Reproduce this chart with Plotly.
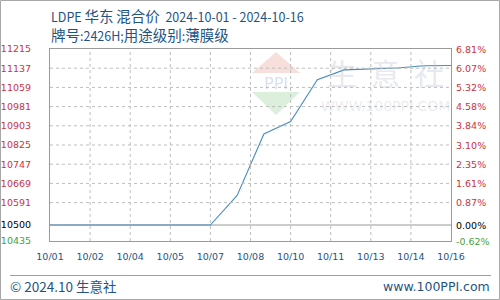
import plotly.graph_objects as go
import pandas as pd

# ---------------- data ----------------
dates = ["2024-10-01", "2024-10-02", "2024-10-03", "2024-10-04", "2024-10-05",
         "2024-10-06", "2024-10-07", "2024-10-08", "2024-10-09", "2024-10-10",
         "2024-10-11", "2024-10-12", "2024-10-13", "2024-10-14", "2024-10-15",
         "2024-10-16"]
prices = [10500, 10500, 10500, 10500, 10500, 10500, 10500, 10620, 10870, 10920,
          11090, 11130, 11134, 11138, 11147, 11148]
y_ticks = [11215, 11137, 11059, 10981, 10903, 10825, 10747, 10669, 10591, 10500, 10435]
base_price = 10500
x_tick_labels = ["10/01", "10/02", "10/04", "10/05", "10/07", "10/08",
                 "10/10", "10/11", "10/13", "10/14", "10/16"]
title_parts_1 = [("LDPE", False), (" ", False), ("华东", True), (" ", False),
                 ("混合价", True), ("  2024-10-01 - 2024-10-16", False)]
title_parts_2 = [("牌号", True), (":2426H;", False), ("用途级别", True),
                 (":", False), ("薄膜级", True)]
footer_left = "© 2024.10 生意社"
footer_right = "www.100PPI.com"

# ---------------- layout geometry ----------------
W, H = 500, 300
L, R, T, B = 50, 451, 49, 241
PW, PH = R - L, B - T


def px(x):
    return (x - L) / PW


def py(y):
    return (B - y) / PH


RED, GREEN, BLACK = "#cc3340", "#3f9f3f", "#000000"
BLUE_TXT = "#1f5482"
NUMFONT = "DejaVu Sans"
CJK = "Noto Sans CJK SC"


def tick_color(v):
    if v == base_price:
        return BLACK
    if v < base_price:
        return GREEN
    return RED


def mixed(parts, cjk_size):
    out = []
    for txt, is_cjk in parts:
        if is_cjk:
            out.append(f'<span style="font-size:{cjk_size}px">{txt}</span>')
        else:
            out.append(txt)
    return "".join(out)


left_text = [f'<span style="color:{tick_color(v)}">{v}</span>' for v in y_ticks]

start = pd.Timestamp(dates[0])
end = pd.Timestamp(dates[-1])
step = (end - start) / (len(x_tick_labels) - 1)
x_tick_vals = [start + i * step for i in range(len(x_tick_labels))]

fig = go.Figure()
fig.add_trace(go.Scatter(x=dates, y=prices, mode="lines",
                         line=dict(color="#4a8cbc", width=1.1),
                         hoverinfo="skip", showlegend=False))

yrange = [min(y_ticks), max(y_ticks)]
GRID = "#bdbdbd"

fig.update_layout(
    width=W, height=H,
    margin=dict(l=L, r=W - R, t=T, b=H - B, pad=0, autoexpand=False),
    paper_bgcolor="white", plot_bgcolor="white",
    font=dict(family=NUMFONT, size=10, color=RED),
    xaxis=dict(type="date", range=[start, end], tickvals=x_tick_vals,
               ticktext=x_tick_labels, showgrid=False,
               showline=True, mirror=True,
               linecolor="#9a9a9a", linewidth=1, ticks="", ticklabelstandoff=7,
               tickfont=dict(family=NUMFONT, size=9.5, color=BLUE_TXT),
               zeroline=False, fixedrange=True, automargin=False),
    yaxis=dict(range=yrange, tickvals=y_ticks, ticktext=left_text,
               showgrid=False,
               showline=True, mirror=True,
               linecolor="#9a9a9a", linewidth=1,
               ticks="", ticklabelstandoff=16,
               tickfont=dict(family=NUMFONT, size=9.5, color=RED),
               zeroline=False, fixedrange=True, automargin=False),
    showlegend=False,
)

shapes = []
# grid lines at the tick positions, drawn on top so they are not hidden
for v in y_ticks:
    if v in (base_price, min(y_ticks), max(y_ticks)):
        continue
    shapes.append(dict(type="line", xref="paper", yref="y", x0=0, x1=1, y0=v, y1=v,
                       line=dict(color=GRID, width=1, dash="dot"), layer="above"))
for xv in x_tick_vals[1:-1]:
    shapes.append(dict(type="line", xref="x", yref="paper", x0=xv, x1=xv, y0=0, y1=1,
                       line=dict(color=GRID, width=1, dash="dot"), layer="above"))
# baseline at base price
shapes.append(dict(type="line", xref="paper", yref="y", x0=0, x1=1,
                   y0=base_price, y1=base_price,
                   line=dict(color="#9a9a9a", width=1), layer="below"))
# watermark logo (diamond)
shapes.append(dict(type="path", xref="paper", yref="paper", layer="below",
                   path=f"M {px(276)} {py(52)} L {px(300)} {py(73)} L {px(252)} {py(73)} Z",
                   fillcolor="rgba(230,150,140,0.3)", line=dict(width=0)))
shapes.append(dict(type="path", xref="paper", yref="paper", layer="below",
                   path=f"M {px(252)} {py(92)} L {px(300)} {py(92)} L {px(276)} {py(115)} Z",
                   fillcolor="rgba(140,200,140,0.3)", line=dict(width=0)))
# footer separator
shapes.append(dict(type="line", xref="paper", yref="paper",
                   x0=px(10), x1=px(491), y0=py(275.5), y1=py(275.5),
                   line=dict(color="#a0a0a0", width=1)))
# outer border
shapes.append(dict(type="rect", xref="paper", yref="paper",
                   x0=px(0.5), x1=px(499.5), y0=py(0.5), y1=py(299.5),
                   line=dict(color="#a8a8a8", width=1)))
fig.update_layout(shapes=shapes)

ann = []
# right-hand percentage axis labels
for v in y_ticks:
    pct = (v - base_price) / base_price * 100
    ann.append(dict(text=f"{pct:.2f}%", x=px(R + 3), y=v, xref="paper", yref="y",
                    xanchor="left", yanchor="middle", showarrow=False,
                    font=dict(family=NUMFONT, size=9.5, color=tick_color(v))))
ann.append(dict(text=mixed(title_parts_1, 14.5), x=px(49), y=py(15), xref="paper", yref="paper",
                xanchor="left", yanchor="middle", showarrow=False,
                font=dict(family=CJK, size=12.5, color=BLUE_TXT)))
ann.append(dict(text=mixed(title_parts_2, 14.5), x=px(49), y=py(34), xref="paper", yref="paper",
                xanchor="left", yanchor="middle", showarrow=False,
                font=dict(family=CJK, size=12.5, color=BLUE_TXT)))
ann.append(dict(text=footer_left, x=px(8), y=py(286), xref="paper", yref="paper",
                xanchor="left", yanchor="middle", showarrow=False,
                font=dict(family=CJK, size=13.5, color=BLUE_TXT)))
ann.append(dict(text=footer_right, x=px(492), y=py(286), xref="paper", yref="paper",
                xanchor="right", yanchor="middle", showarrow=False,
                font=dict(family="DejaVu Sans", size=12.5, color=BLUE_TXT)))
# watermark texts
ann.append(dict(text="PPI", x=px(276), y=py(83), xref="paper", yref="paper",
                xanchor="center", yanchor="middle", showarrow=False,
                font=dict(family="DejaVu Sans", size=16, color="rgba(120,150,200,0.3)")))
ann.append(dict(text="生  意  社", x=px(385), y=py(72), xref="paper", yref="paper",
                xanchor="center", yanchor="middle", showarrow=False,
                font=dict(family=CJK, size=30, color="rgba(170,180,195,0.3)")))
ann.append(dict(text="WWW.100PPI.COM", x=px(385), y=py(106), xref="paper", yref="paper",
                xanchor="center", yanchor="middle", showarrow=False,
                font=dict(family="DejaVu Sans", size=14, color="rgba(170,180,195,0.25)")))
fig.update_layout(annotations=ann)

fig.write_html("out.html")
